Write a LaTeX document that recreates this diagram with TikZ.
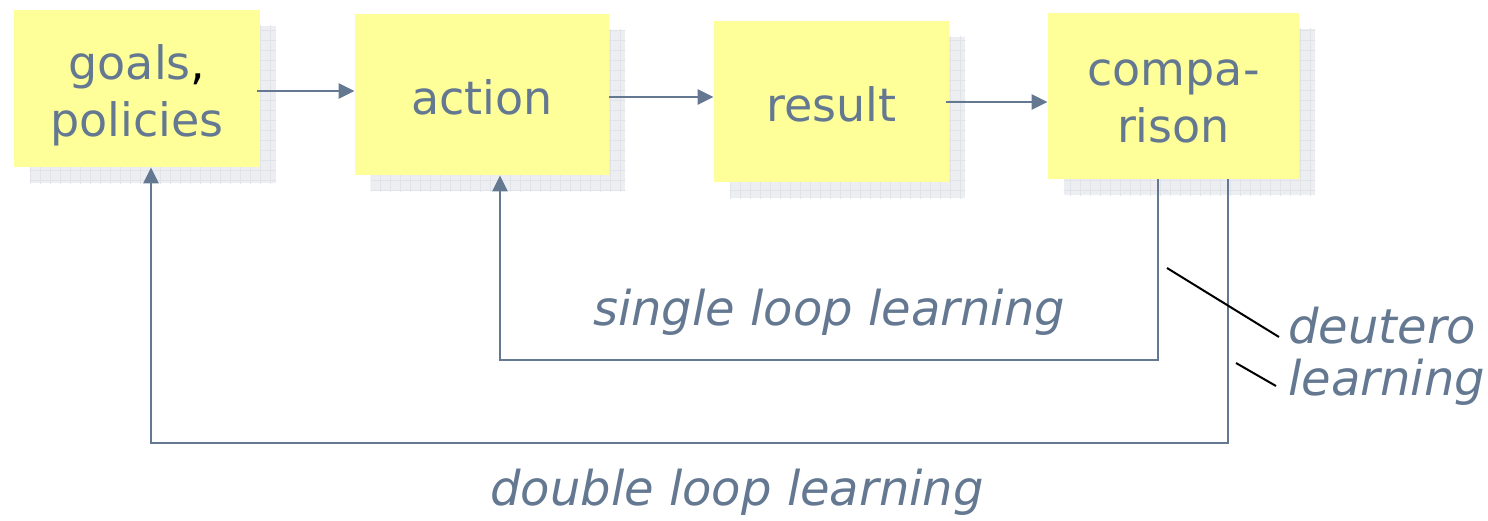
\documentclass[tikz,border=0pt]{standalone}
\usepackage{fontspec}
\setmainfont{DejaVu Sans}
\usetikzlibrary{arrows.meta,backgrounds}
\definecolor{slate}{RGB}{100,121,145}
\definecolor{cardyellow}{RGB}{255,255,153}
\definecolor{shadowfill}{RGB}{236,238,241}
\definecolor{shadowgrid}{RGB}{224,227,232}
\tikzset{
  card/.style={fill=cardyellow, inner sep=0pt, align=center, text=slate,
    font=\fontsize{23}{28.5}\selectfont},
  flow/.style={draw=slate, line width=1.2pt, -{Triangle[length=8pt,width=7.5pt]}},
  pointer/.style={draw=black, line width=1pt},
  looplabel/.style={text=slate, inner sep=0pt, font=\fontsize{24}{28}\selectfont\itshape}
}
% grid-textured drop shadow, offset down and to the right of a card
\newcommand\cardshadow[1]{%
  \begin{scope}
    \clip ([shift={(16,16)}]#1.south west) rectangle ([shift={(16,16)}]#1.north east);
    \fill[shadowfill] ([shift={(16,16)}]#1.south west) rectangle ([shift={(16,16)}]#1.north east);
    \draw[shadowgrid, line width=0.5pt, step=5pt] (0,0) grid (1488,520);
  \end{scope}}
\begin{document}
\begin{tikzpicture}[x=0.5pt,y=-0.5pt]
  \useasboundingbox (0,0) rectangle (1488,520);

  % the four stages
  \node[card, minimum width=123pt, minimum height=78.5pt] (goals) at (137,88.5)
    {\rule{0pt}{24.5pt}goals{\color{black},}\\policies};
  \node[card, minimum width=127pt, minimum height=80.5pt] (action) at (482,94.5)
    {\rule{0pt}{20pt}action};
  \node[card, minimum width=117.5pt, minimum height=80.5pt] (result) at (831.5,101.5)
    {\rule{0pt}{20pt}result};
  \node[card, minimum width=125.5pt, minimum height=83pt] (comp) at (1173.5,96)
    {\rule{0pt}{18.6pt}compa-\\rison};

  \begin{scope}[on background layer]
    \cardshadow{goals}
    \cardshadow{action}
    \cardshadow{result}
    \cardshadow{comp}
  \end{scope}

  % forward flow
  \draw[flow] ([xshift=-1.5pt]goals.east |- 0,91) -- (action.west |- 0,91);
  \draw[flow] (action.east |- 0,97) -- (result.west |- 0,97);
  \draw[flow] ([xshift=-1.5pt]result.east |- 0,102) -- (comp.west |- 0,102);

  % feedback loops
  \coordinate (sl) at (500,360);
  \coordinate (dl) at (151,443);
  \draw[flow] (comp.south -| 1158,0) |- (sl) -- (action.south -| sl);
  \draw[flow] (comp.south -| 1228,0) |- (dl) -- (goals.south -| dl);

  % labels
  \node[looplabel] (single) at (829,312) {single loop learning};
  \node[looplabel] (double) at (737,492) {double loop learning};
  \node[looplabel, anchor=west] (deutero) at (1288,326) {deutero};
  \node[looplabel, anchor=west] (deutlearn) at (1288,382) {learning};

  % pointers from the deutero label to both loops
  \coordinate (p1) at (1167,268);
  \coordinate (p2) at (1236,363);
  \draw[pointer] (p1) -- (1279,337);
  \draw[pointer] (p2) -- (1276,386);
\end{tikzpicture}
\end{document}
